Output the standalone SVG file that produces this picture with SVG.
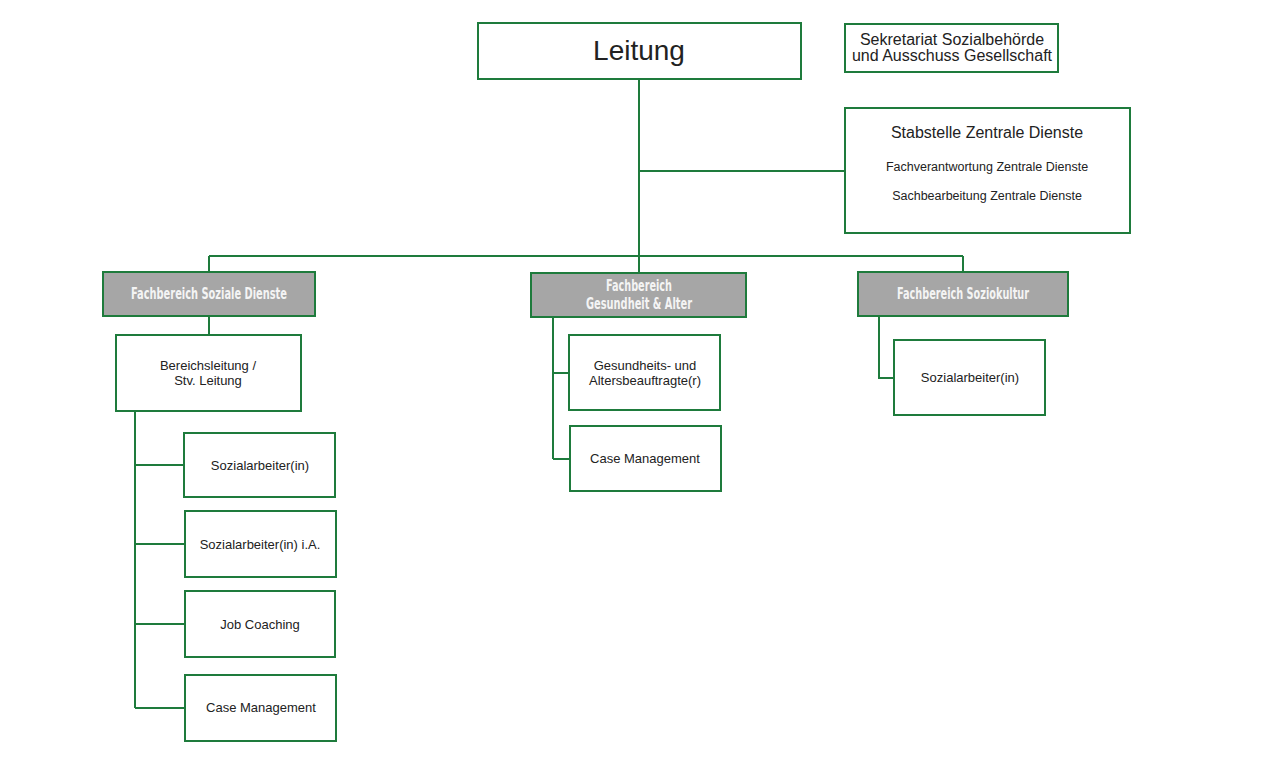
<svg xmlns="http://www.w3.org/2000/svg" width="1264" height="764" viewBox="0 0 1264 764">
<style>
.b{fill:#fff;stroke:#1e7b3c;stroke-width:2}
.h{fill:#a6a6a6;stroke:#1e7b3c;stroke-width:2}
.c{fill:none;stroke:#1e7b3c;stroke-width:2}
.t{font-family:"Liberation Sans",Arial,sans-serif;fill:#222;text-anchor:middle}
.ht{font-family:"DejaVu Sans Condensed","Liberation Sans",sans-serif;font-stretch:condensed;font-weight:bold;fill:#f4f4f4;text-anchor:middle;font-size:15px}
</style>
<rect width="1264" height="764" fill="#fff"/>
<g id="connectors">
<path class="c" d="M639 79V256M639 171H845M209 256H963M209 256V272M639 256V273M963 256V272"/>
<path class="c" d="M209 316V335M135 411V708M135 465H184M135 544H185M135 624H185M135 708H185"/>
<path class="c" d="M553 317V459M553 373H569M553 459H570"/>
<path class="c" d="M879 316V378H894"/>
</g>
<g id="leitung"><rect class="b" x="478" y="23" width="323" height="56"/><text class="t" x="639" y="60" font-size="28">Leitung</text></g>
<g id="sekretariat"><rect class="b" x="845" y="24" width="213" height="48"/><text class="t" x="952" y="45" font-size="16">Sekretariat Sozialbehörde</text><text class="t" x="952" y="61" font-size="16">und Ausschuss Gesellschaft</text></g>
<g id="stabstelle"><rect class="b" x="845" y="108" width="285" height="125"/><text class="t" x="987" y="138" font-size="16">Stabstelle Zentrale Dienste</text><text class="t" x="987" y="171" font-size="12.5">Fachverantwortung Zentrale Dienste</text><text class="t" x="987" y="200" font-size="12.5">Sachbearbeitung Zentrale Dienste</text></g>
<g id="fb-soziale-dienste"><rect class="h" x="103" y="272" width="212" height="44"/><text class="ht" x="209" y="299" textLength="156" lengthAdjust="spacingAndGlyphs">Fachbereich Soziale Dienste</text></g>
<g id="fb-gesundheit"><rect class="h" x="531" y="273" width="215" height="44"/><text class="ht" x="639" y="291" textLength="66" lengthAdjust="spacingAndGlyphs">Fachbereich</text><text class="ht" x="639" y="309" textLength="106" lengthAdjust="spacingAndGlyphs">Gesundheit &amp; Alter</text></g>
<g id="fb-soziokultur"><rect class="h" x="858" y="272" width="210" height="44"/><text class="ht" x="963" y="299" textLength="132" lengthAdjust="spacingAndGlyphs">Fachbereich Soziokultur</text></g>
<g id="bereichsleitung"><rect class="b" x="116" y="335" width="185" height="76"/><text class="t" x="208" y="370" font-size="13">Bereichsleitung /</text><text class="t" x="208" y="385" font-size="13">Stv. Leitung</text></g>
<g id="sd-sozialarbeiter"><rect class="b" x="184" y="433" width="151" height="64"/><text class="t" x="260" y="470" font-size="13">Sozialarbeiter(in)</text></g>
<g id="sd-sozialarbeiter-ia"><rect class="b" x="185" y="511" width="151" height="66"/><text class="t" x="260" y="549" font-size="13">Sozialarbeiter(in) i.A.</text></g>
<g id="sd-job-coaching"><rect class="b" x="185" y="591" width="150" height="66"/><text class="t" x="260" y="629" font-size="13">Job Coaching</text></g>
<g id="sd-case-management"><rect class="b" x="185" y="675" width="151" height="66"/><text class="t" x="261" y="712" font-size="13">Case Management</text></g>
<g id="ga-beauftragte"><rect class="b" x="569" y="335" width="151" height="75"/><text class="t" x="645" y="370" font-size="13">Gesundheits- und</text><text class="t" x="645" y="385" font-size="13">Altersbeauftragte(r)</text></g>
<g id="ga-case-management"><rect class="b" x="570" y="426" width="151" height="65"/><text class="t" x="645" y="463" font-size="13">Case Management</text></g>
<g id="sk-sozialarbeiter"><rect class="b" x="894" y="340" width="151" height="75"/><text class="t" x="970" y="382" font-size="13">Sozialarbeiter(in)</text></g>
</svg>
